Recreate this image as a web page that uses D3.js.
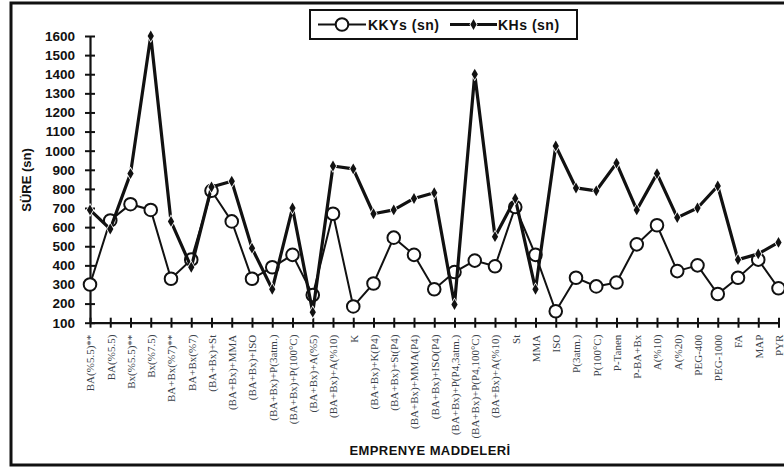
<!DOCTYPE html>
<html>
<head>
<meta charset="utf-8">
<script src="https://cdn.jsdelivr.net/npm/d3@7"></script>
<style>
  html, body { margin: 0; padding: 0; background: #fff; }
  svg { display: block; }
</style>
</head>
<body>
<svg id="chart" width="784" height="468"></svg>
<script>
// Impregnation materials (x categories)
const categories = [
  "BA(%5.5)**", "BA(%5.5)", "Bx(%5.5)**", "Bx(%7.5)", "BA+Bx(%7)**", "BA+Bx(%7)",
  "(BA+Bx)+St", "(BA+Bx)+MMA", "(BA+Bx)+ISO", "(BA+Bx)+P(3atm.)", "(BA+Bx)+P(100°C)",
  "(BA+Bx)+A(%5)", "(BA+Bx)+A(%10)", "K", "(BA+Bx)+K(P4)", "(BA+Bx)+St(P4)",
  "(BA+Bx)+MMA(P4)", "(BA+Bx)+ISO(P4)", "(BA+Bx)+P(P4,3atm.)", "(BA+Bx)+P(P4,100°C)",
  "(BA+Bx)+A(%10)", "St", "MMA", "ISO", "P(3atm.)", "P(100°C)", "P-Tanen", "P-BA+Bx",
  "A(%10)", "A(%20)", "PEG-400", "PEG-1000", "FA", "MAP", "PYR"
];

// KKYs (sn) – open circles
const kkys = [300, 635, 720, 690, 330, 430, 790, 630, 330, 390, 455, 245, 670, 185, 305,
  545, 455, 275, 365, 425, 395, 705, 455, 160, 335, 290, 310, 510, 610, 370, 400, 250,
  335, 430, 280];

// KHs (sn) – diamonds
const khs = [690, 590, 880, 1600, 630, 390, 810, 840, 490, 275, 700, 155, 920, 905, 670,
  690, 750, 780, 195, 1400, 550, 750, 275, 1025, 805, 790, 935, 690, 880, 650, 700, 815,
  430, 460, 520];

const yTicks = [100, 200, 300, 400, 500, 600, 700, 800, 900, 1000, 1100, 1200, 1300, 1400, 1500, 1600];

const svg = d3.select("#chart");
const ink = "#111";

// Outer frame
svg.append("rect")
  .attr("x", 11).attr("y", 3).attr("width", 790).attr("height", 462)
  .attr("fill", "none").attr("stroke", ink).attr("stroke-width", 3);

// Categories repeat a name, so positions are keyed by index
const idx = d3.range(categories.length);
const x = d3.scalePoint().domain(idx).range([90, 778.5]);
const y = d3.scaleLinear().domain([100, 1600]).range([322.7, 36]);

// Y axis with ticks crossing the line
const yAxis = svg.append("g").attr("transform", "translate(90,0)")
  .call(d3.axisLeft(y).tickValues(yTicks).tickSize(0).tickPadding(15).tickFormat(d3.format("d")));
yAxis.select(".domain").attr("stroke", ink).attr("stroke-width", 2.2);
yAxis.selectAll(".tick text")
  .attr("font-family", "Liberation Sans, Arial, sans-serif")
  .attr("font-weight", "bold").attr("font-size", 13.5).attr("fill", ink);
yAxis.selectAll(".tick").append("line")
  .attr("x1", -5).attr("x2", 5).attr("stroke", ink).attr("stroke-width", 2);

// X axis with ticks crossing the line
const xAxis = svg.append("g").attr("transform", "translate(0,322.7)")
  .call(d3.axisBottom(x).tickSize(0).tickPadding(0).tickFormat(i => categories[i]));
xAxis.select(".domain").attr("stroke", ink).attr("stroke-width", 2.2);
xAxis.selectAll(".tick").append("line")
  .attr("y1", -5).attr("y2", 5).attr("stroke", ink).attr("stroke-width", 2);
xAxis.selectAll(".tick text")
  .attr("font-family", "Liberation Serif, Times New Roman, serif")
  .attr("font-size", 11).attr("fill", "#3a3f4a")
  .attr("text-anchor", "end")
  .attr("dy", "0.35em")
  .attr("transform", "translate(0,12) rotate(-90)")
  .attr("x", 0).attr("y", 0);

// Axis titles
svg.append("text")
  .attr("transform", "translate(31,180) rotate(-90)")
  .attr("text-anchor", "middle")
  .attr("font-family", "Liberation Sans, Arial, sans-serif")
  .attr("font-weight", "bold").attr("font-size", 13).attr("fill", ink)
  .text("SÜRE (sn)");

svg.append("text")
  .attr("x", 430).attr("y", 455)
  .attr("text-anchor", "middle")
  .attr("font-family", "Liberation Sans, Arial, sans-serif")
  .attr("font-weight", "bold").attr("font-size", 13).attr("fill", ink)
  .attr("letter-spacing", 0.4)
  .text("EMPRENYE MADDELERİ");

// KKYs series
const lineK = d3.line().x((d, i) => x(i)).y(d => y(d));
svg.append("path").datum(kkys)
  .attr("d", lineK).attr("fill", "none").attr("stroke", ink).attr("stroke-width", 2);
svg.append("g").selectAll("circle").data(kkys).join("circle")
  .attr("cx", (d, i) => x(i)).attr("cy", d => y(d)).attr("r", 6.3)
  .attr("fill", "#fff").attr("stroke", ink).attr("stroke-width", 2);

// KHs series
svg.append("path").datum(khs)
  .attr("d", lineK).attr("fill", "none").attr("stroke", ink).attr("stroke-width", 3.2)
  .attr("stroke-linejoin", "round");
const diamond = d3.symbol().type(d3.symbolDiamond).size(34);
svg.append("g").selectAll("path").data(khs).join("path")
  .attr("d", diamond)
  .attr("transform", (d, i) => `translate(${x(i)},${y(d)})`)
  .attr("fill", ink).attr("stroke", "#fff").attr("stroke-width", 1.6)
  .attr("paint-order", "stroke");

// Legend
const lg = svg.append("g");
lg.append("rect").attr("x", 310).attr("y", 10).attr("width", 267).attr("height", 29)
  .attr("fill", "#fff").attr("stroke", ink).attr("stroke-width", 2);
lg.append("line").attr("x1", 318).attr("x2", 366).attr("y1", 24.5).attr("y2", 24.5)
  .attr("stroke", ink).attr("stroke-width", 2);
lg.append("circle").attr("cx", 342).attr("cy", 24.5).attr("r", 6.3)
  .attr("fill", "#fff").attr("stroke", ink).attr("stroke-width", 2);
lg.append("text").attr("x", 368).attr("y", 29.5)
  .attr("font-family", "Liberation Sans, Arial, sans-serif")
  .attr("font-weight", "bold").attr("font-size", 14).attr("fill", ink)
  .attr("letter-spacing", 0.5)
  .text("KKYs (sn)");
lg.append("line").attr("x1", 450).attr("x2", 497).attr("y1", 24.5).attr("y2", 24.5)
  .attr("stroke", ink).attr("stroke-width", 3.2);
lg.append("path").attr("d", diamond)
  .attr("transform", "translate(473.5,24.5)")
  .attr("fill", ink).attr("stroke", "#fff").attr("stroke-width", 1.6)
  .attr("paint-order", "stroke");
lg.append("text").attr("x", 498).attr("y", 29.5)
  .attr("font-family", "Liberation Sans, Arial, sans-serif")
  .attr("font-weight", "bold").attr("font-size", 14).attr("fill", ink)
  .attr("letter-spacing", 0.5)
  .text("KHs (sn)");
</script>
</body>
</html>
